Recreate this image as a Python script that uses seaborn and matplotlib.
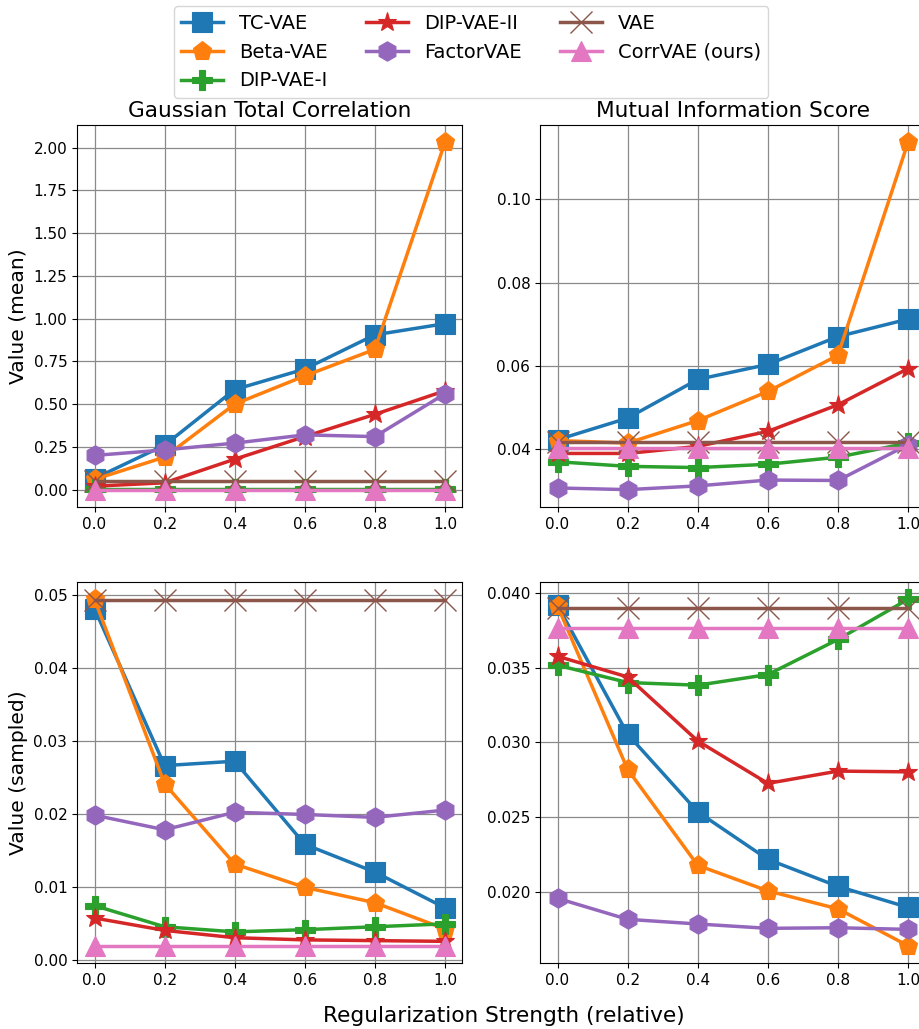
import matplotlib
matplotlib.use("Agg")
import matplotlib.pyplot as plt
import seaborn as sns
import numpy as np

# Regularization strength (relative) on the x axis
strength = [0.0, 0.2, 0.4, 0.6, 0.8, 1.0]

methods = ["TC-VAE", "Beta-VAE", "DIP-VAE-I", "DIP-VAE-II", "FactorVAE", "VAE", "CorrVAE (ours)"]

# Gaussian total correlation (mean representation)
gtc_mean = {
    "TC-VAE":         [0.065, 0.26, 0.585, 0.705, 0.905, 0.97],
    "Beta-VAE":       [0.06, 0.19, 0.50, 0.665, 0.82, 2.03],
    "DIP-VAE-I":      [0.004, 0.004, 0.004, 0.004, 0.004, 0.004],
    "DIP-VAE-II":     [0.02, 0.04, 0.178, 0.31, 0.44, 0.578],
    "FactorVAE":      [0.20, 0.232, 0.272, 0.32, 0.31, 0.56],
    "VAE":            [0.05, 0.05, 0.05, 0.05, 0.05, 0.05],
    "CorrVAE (ours)": [0.0, 0.0, 0.0, 0.0, 0.0, 0.0],
}

# Mutual information score (mean representation)
mis_mean = {
    "TC-VAE":         [0.0422, 0.0474, 0.0567, 0.0603, 0.0670, 0.0712],
    "Beta-VAE":       [0.0420, 0.0414, 0.0468, 0.0538, 0.0625, 0.1137],
    "DIP-VAE-I":      [0.0369, 0.0358, 0.0355, 0.0363, 0.0380, 0.0414],
    "DIP-VAE-II":     [0.0389, 0.0389, 0.0406, 0.0442, 0.0506, 0.0593],
    "FactorVAE":      [0.0306, 0.0302, 0.0311, 0.0325, 0.0324, 0.0410],
    "VAE":            [0.0416, 0.0416, 0.0416, 0.0416, 0.0416, 0.0416],
    "CorrVAE (ours)": [0.0402, 0.0402, 0.0402, 0.0402, 0.0402, 0.0402],
}

# Gaussian total correlation (sampled representation)
gtc_sampled = {
    "TC-VAE":         [0.0481, 0.0266, 0.0272, 0.0158, 0.0120, 0.0071],
    "Beta-VAE":       [0.0494, 0.0241, 0.0131, 0.0099, 0.0078, 0.0042],
    "DIP-VAE-I":      [0.0074, 0.0045, 0.0038, 0.0041, 0.0045, 0.0049],
    "DIP-VAE-II":     [0.0057, 0.0040, 0.0030, 0.0027, 0.0026, 0.0025],
    "FactorVAE":      [0.0198, 0.0178, 0.0202, 0.0199, 0.0195, 0.0205],
    "VAE":            [0.0493, 0.0493, 0.0493, 0.0493, 0.0493, 0.0493],
    "CorrVAE (ours)": [0.0019, 0.0019, 0.0019, 0.0019, 0.0019, 0.0019],
}

# Mutual information score (sampled representation)
mis_sampled = {
    "TC-VAE":         [0.03915, 0.03055, 0.02537, 0.0222, 0.0204, 0.0190],
    "Beta-VAE":       [0.0391, 0.0282, 0.0218, 0.0201, 0.0189, 0.01644],
    "DIP-VAE-I":      [0.03515, 0.0340, 0.03382, 0.03453, 0.03687, 0.03955],
    "DIP-VAE-II":     [0.03575, 0.03437, 0.0301, 0.02727, 0.02809, 0.02804],
    "FactorVAE":      [0.0196, 0.0182, 0.01789, 0.0176, 0.01764, 0.01753],
    "VAE":            [0.0390, 0.0390, 0.0390, 0.0390, 0.0390, 0.0390],
    "CorrVAE (ours)": [0.03764, 0.03764, 0.03764, 0.03764, 0.03764, 0.03764],
}

palette = sns.color_palette("tab10")
styles = {
    "TC-VAE":         dict(color=palette[0], marker="s"),
    "Beta-VAE":       dict(color=palette[1], marker="p"),
    "DIP-VAE-I":      dict(color=palette[2], marker="P"),
    "DIP-VAE-II":     dict(color=palette[3], marker="*"),
    "FactorVAE":      dict(color=palette[4], marker="h"),
    "VAE":            dict(color=palette[5], marker="x"),
    "CorrVAE (ours)": dict(color=palette[6], marker="^"),
}

plt.rcParams["font.family"] = ["DejaVu Sans"]

fig = plt.figure(figsize=(9.2, 10.29), dpi=100)
W = 0.4190
ax_tl = fig.add_axes([0.0837, 0.5073, W, 0.3712])
ax_tr = fig.add_axes([0.5870, 0.5073, W, 0.3712])
ax_bl = fig.add_axes([0.0837, 0.0641, W, 0.3703])
ax_br = fig.add_axes([0.5870, 0.0641, W, 0.3703])

panels = [
    (ax_tl, gtc_mean, "Gaussian Total Correlation", "Value (mean)"),
    (ax_tr, mis_mean, "Mutual Information Score", None),
    (ax_bl, gtc_sampled, None, "Value (sampled)"),
    (ax_br, mis_sampled, None, None),
]

for ax, table, title, ylabel in panels:
    ax.set_axisbelow(True)
    ax.grid(True, color="#8a8a8a", linewidth=0.9)
    for name in methods:
        st = styles[name]
        thin = st["marker"] == "x"
        sns.lineplot(
            x=strength, y=table[name], ax=ax,
            color=st["color"], marker=st["marker"],
            markersize=14 if not thin else 16,
            markeredgecolor=st["color"],
            markeredgewidth=1.0 if thin else 0.8,
            linewidth=2.5, label=name, legend=False,
        )
    ax.set_xticks(strength)
    ax.tick_params(labelsize=11)
    if title:
        ax.set_title(title, fontsize=15.6)
    if ylabel:
        ax.set_ylabel(ylabel, fontsize=14.6)
    for sp in ax.spines.values():
        sp.set_color("black")
    if ax.get_legend() is not None:
        ax.get_legend().remove()

ax_tl.set_yticks(np.arange(0, 2.01, 0.25))
ax_tr.set_yticks([0.04, 0.06, 0.08, 0.10])
ax_bl.set_yticks(np.arange(0, 0.051, 0.01))
ax_br.set_yticks([0.020, 0.025, 0.030, 0.035, 0.040])

handles, labels = ax_tl.get_legend_handles_labels()
fig.legend(handles, labels, loc="upper center", bbox_to_anchor=(0.512, 0.994),
           ncol=3, fontsize=14, borderaxespad=0, handlelength=2.15,
           handletextpad=0.8, columnspacing=2.0, labelspacing=0.5)

fig.text(0.548, 0.0126, "Regularization Strength (relative)", fontsize=15.6,
         ha="center", va="center")

fig.savefig("out.png", dpi=100)
